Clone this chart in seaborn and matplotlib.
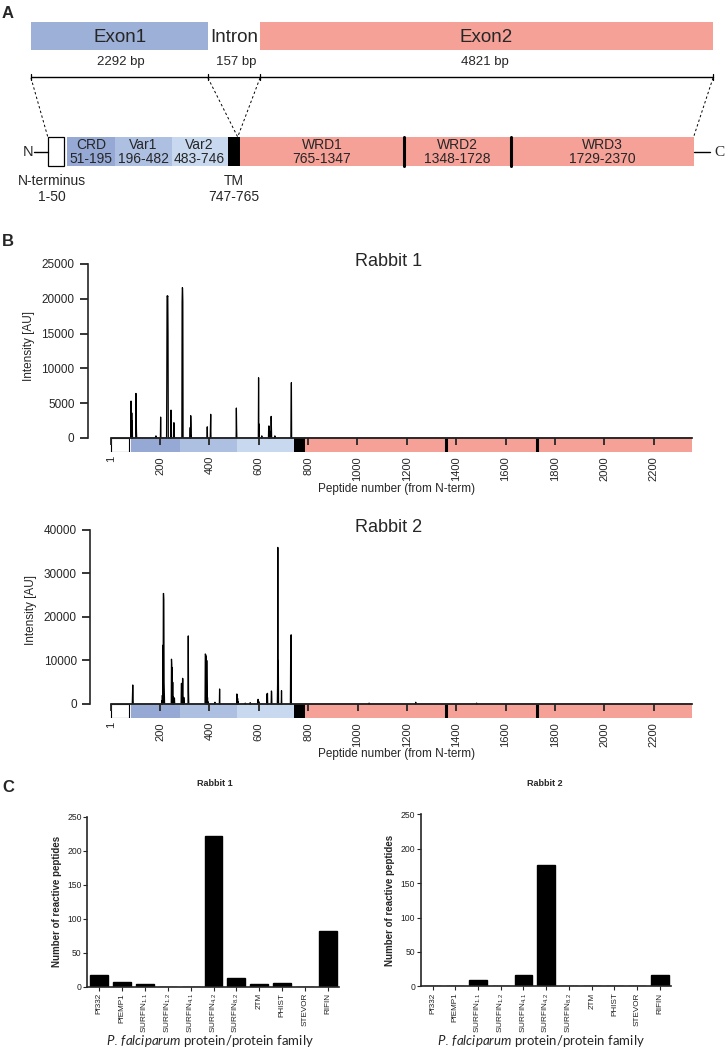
import numpy as np
import pandas as pd
import seaborn as sns
import matplotlib
matplotlib.use("Agg")
import matplotlib.pyplot as plt
from matplotlib.patches import Rectangle

# ---------------- data ----------------
exon_names = ["Exon1", "Intron", "Exon2"]
exon_bp = ["2292 bp", "157 bp", "4821 bp"]

domain_names = ["CRD", "Var1", "Var2", "WRD1", "WRD2", "WRD3"]
domain_ranges = ["51-195", "196-482", "483-746", "765-1347", "1348-1728", "1729-2370"]
nterm_label = ["N-terminus", "1-50"]
tm_label = ["TM", "747-765"]

n_peptides = 2356
# peptide-array domain map (start, end) in peptide numbers
seg_start = [1, 82, 281, 512, 741, 787]
seg_end = [75, 281, 512, 741, 787, 2356]
wrd_dividers = [1357, 1729]
pep_ticks = [1, 200, 400, 600, 800, 1000, 1200, 1400, 1600, 1800, 2000, 2200]

r1_peptides = [82, 83, 85, 87, 102, 103, 104, 183, 202, 227, 228, 229, 230, 231, 232,
               244, 255, 256, 257, 289, 290, 291, 292, 322, 324, 325, 391, 404, 405,
               509, 510, 599, 601, 612, 640, 642, 644, 650, 651, 665, 731, 732]
r1_intensity = [5300, 3000, 3600, 2500, 6400, 3500, 900, 300, 3000, 8000, 20400, 20400,
                20300, 20400, 15000, 4000, 2100, 2200, 1500, 19500, 21600, 21500, 19600,
                1500, 3200, 2000, 1600, 2000, 3400, 4300, 1500, 8650, 2000, 300, 1700,
                1700, 1000, 3100, 1800, 300, 4500, 7950]

r2_peptides = [88, 89, 90, 207, 209, 211, 213, 214, 215, 216, 217, 246, 247, 249, 251,
               253, 255, 258, 286, 287, 289, 291, 292, 294, 296, 314, 315, 383, 384, 385,
               387, 389, 390, 392, 394, 422, 441, 511, 512, 514, 516, 545, 565, 597, 600,
               633, 635, 651, 652, 676, 677, 679, 692, 729, 731, 1047, 1236, 1483]
r2_intensity = [1800, 4370, 1800, 800, 2000, 13500, 25400, 25400, 24000, 5000, 2000,
                10300, 9000, 8400, 5000, 1700, 1500, 1300, 4700, 4750, 3600, 5900, 5800,
                1500, 1500, 15650, 3000, 11500, 11400, 11300, 11000, 10000, 4000, 1500,
                500, 400, 3450, 2300, 2200, 1300, 500, 200, 300, 1070, 540, 2300, 2450,
                2990, 2800, 4500, 36000, 10000, 3060, 10900, 15900, 200, 400, 200]

families = ["Pf332", "PfEMP1", r"SURFIN$_{\mathrm{1.1}}$", r"SURFIN$_{\mathrm{1.2}}$",
            r"SURFIN$_{\mathrm{4.1}}$", r"SURFIN$_{\mathrm{4.2}}$", r"SURFIN$_{\mathrm{8.2}}$",
            "2TM", "PHIST", "STEVOR", "RIFIN"]
rabbit1_counts = [17, 7, 4, 0, 0, 222, 13, 4, 5, 0, 82]
rabbit2_counts = [0, 0, 9, 0, 17, 177, 0, 0, 0, 0, 17]

# ---------------- style ----------------
sns.set_style("ticks")
plt.rcParams["font.family"] = ["Liberation Sans", "DejaVu Sans"]
plt.rcParams["axes.axisbelow"] = "line"
plt.rcParams["mathtext.fontset"] = "custom"
plt.rcParams["mathtext.rm"] = "Liberation Sans"
plt.rcParams["mathtext.it"] = "Lato:italic"
plt.rcParams["mathtext.bf"] = "Liberation Sans:bold"

BLUE_EXON = "#9DB0D8"
PINK = "#F5A198"
CRD_C = "#95A9D4"
VAR1_C = "#AEC0E2"
VAR2_C = "#C8D8EE"
seg_colors = ["white", CRD_C, VAR1_C, VAR2_C, "black", PINK]

W, H = 728, 1048
fig = plt.figure(figsize=(W / 100, H / 100), dpi=100)


def add_ax(left, top, right, bottom):
    return fig.add_axes([left / W, 1 - bottom / H, (right - left) / W, (bottom - top) / H])


axF = fig.add_axes([0, 0, 1, 1])
axF.set_xlim(0, W)
axF.set_ylim(H, 0)
axF.axis("off")
axF.patch.set_alpha(0)

# ---------------- panel A (schematic) ----------------
axF.text(8, 14, "A", fontsize=12, fontweight="bold", ha="center", va="center")
axF.text(8, 242, "B", fontsize=12, fontweight="bold", ha="center", va="center")
axF.text(8, 788, "C", fontsize=12, fontweight="bold", ha="center", va="center")

for (x0, x1), col in [((31, 208), BLUE_EXON), ((260, 713), PINK)]:
    axF.add_patch(Rectangle((x0, 22), x1 - x0, 28, color=col, lw=0))
axF.text(120, 37, exon_names[0], fontsize=13.5, ha="center", va="center")
axF.text(234, 37, exon_names[1], fontsize=13.5, ha="center", va="center")
axF.text(486, 37, exon_names[2], fontsize=13.5, ha="center", va="center")

axF.plot([31, 713], [77, 77], color="black", lw=1.0)
for xx in [31, 208, 260, 713]:
    axF.plot([xx, xx], [74, 80], color="black", lw=0.9)
axF.text(121, 62, exon_bp[0], fontsize=9.5, ha="center", va="center")
axF.text(236, 62, exon_bp[1], fontsize=9.5, ha="center", va="center")
axF.text(485, 62, exon_bp[2], fontsize=9.5, ha="center", va="center")

for (xa, xb) in [(31, 47.8), (208, 237.7), (260, 237.7), (713, 693.6)]:
    axF.plot([xa, xb], [78, 137], color="black", lw=0.7, ls=(0, (2.5, 2.5)))

# domain bar
ybar0, ybar1 = 137, 166
axF.add_patch(Rectangle((47.8, ybar0), 63.6 - 47.8, ybar1 - ybar0, facecolor="white",
                        edgecolor="black", lw=0.9))
a_edges = [67.3, 115, 171.8, 227.5, 240, 693.6]
a_cols = [CRD_C, VAR1_C, VAR2_C, "black", PINK]
for i in range(5):
    axF.add_patch(Rectangle((a_edges[i], ybar0), a_edges[i + 1] - a_edges[i],
                            ybar1 - ybar0, color=a_cols[i], lw=0))
for xx in [404, 510.7]:
    axF.plot([xx, xx], [ybar0, ybar1], color="black", lw=2.2)
axF.plot([34, 47.8], [152, 152], color="black", lw=1)
axF.plot([693.6, 710], [152, 152], color="black", lw=1)
axF.text(28, 152, "N", fontsize=10.5, ha="center", va="center")
axF.text(719, 153, "C", fontsize=11, ha="center", va="center", family="Liberation Serif")

dom_cx = [91, 143.4, 199.6, 322, 457.4, 602]
for cx, nm, rg in zip(dom_cx, domain_names, domain_ranges):
    axF.text(cx, 152, nm + "\n" + rg, fontsize=10, ha="center", va="center",
             linespacing=0.95)
axF.text(52, 189, "\n".join(nterm_label), fontsize=10, ha="center", va="center",
         linespacing=1.15)
axF.text(234, 189, "\n".join(tm_label), fontsize=10, ha="center", va="center",
         linespacing=1.15)

# ---------------- panel B ----------------
def peptide_panel(ax, peps, vals, ymax, ystep, bar_h):
    full = np.zeros(n_peptides)
    full[np.array(peps) - 1] = vals
    df = pd.DataFrame({"peptide": np.arange(1, n_peptides + 1), "intensity": full})
    sns.lineplot(data=df, x="peptide", y="intensity", ax=ax, color="black", lw=0.9,
                 estimator=None, zorder=3)
    for s, e, c in zip(seg_start, seg_end, seg_colors):
        ax.add_patch(Rectangle((s, -bar_h), e - s, bar_h, facecolor=c,
                               edgecolor="black" if c == "white" else "none",
                               lw=0.8 if c == "white" else 0, zorder=1))
    ax.vlines(wrd_dividers, -bar_h, 0, color="black", lw=2.2, zorder=2)
    ax.set_ylim(-bar_h, ymax)
    ax.set_yticks(np.arange(0, ymax + 1, ystep))
    ax.spines["left"].set_bounds(0, ymax)
    ax.spines["bottom"].set_position(("data", 0))
    ax.spines["bottom"].set_bounds(1, n_peptides)
    ax.spines["bottom"].set_zorder(4)
    for s in ["left", "bottom"]:
        ax.spines[s].set_linewidth(1.2)
    ax.spines["top"].set_visible(False)
    ax.spines["right"].set_visible(False)
    ax.set_xticks(pep_ticks)
    ax.set_xticklabels([str(t) for t in pep_ticks])
    ax.tick_params(axis="x", direction="out", length=5, width=1.3, pad=8,
                   labelrotation=90, labelsize=8)
    ax.tick_params(axis="y", direction="out", length=5.5, width=1.3, pad=4, labelsize=8.5)
    ax.set_xlabel("")
    ax.set_ylabel("")
    ax.patch.set_alpha(0)


xscale = 0.2467  # px per peptide
ax1 = add_ax(87.7, 264, 700, 452)
ax1.set_xlim((87.7 - 110.8) / xscale, (700 - 110.8) / xscale)
peptide_panel(ax1, r1_peptides, r1_intensity, 25000, 5000, 2017)

ax2 = add_ax(90, 530, 700, 718)
ax2.set_xlim((90 - 110.8) / xscale, (700 - 110.8) / xscale)
peptide_panel(ax2, r2_peptides, r2_intensity, 40000, 10000, 3220)

axF.text(389, 262, "Rabbit 1", fontsize=13, ha="center", va="center")
axF.text(389, 527, "Rabbit 2", fontsize=13, ha="center", va="center")
axF.text(29, 346, "Intensity [AU]", fontsize=8.5, rotation=90, ha="center", va="center")
axF.text(31, 610, "Intensity [AU]", fontsize=8.5, rotation=90, ha="center", va="center")
axF.text(397, 489, "Peptide number (from N-term)", fontsize=8.5, ha="center", va="center")
axF.text(397, 754, "Peptide number (from N-term)", fontsize=8.5, ha="center", va="center")

# ---------------- panel C ----------------
def count_panel(ax, counts, title_x, title):
    df = pd.DataFrame({"family": families, "count": counts})
    sns.barplot(data=df, x="family", y="count", color="black", saturation=1,
                width=0.78, ax=ax, edgecolor="black")
    ax.set_xlim(-0.52, 10.5)
    ax.set_ylim(0, 250)
    ax.set_yticks([0, 50, 100, 150, 200, 250])
    ax.set_xticks(range(len(families)))
    ax.set_xticklabels(families)
    sns.despine(ax=ax)
    for s in ["left", "bottom"]:
        ax.spines[s].set_linewidth(1.2)
    ax.tick_params(axis="x", length=3, width=0.8, pad=1.5, labelrotation=90,
                   labelsize=5.9, labelcolor="#222222")
    ax.tick_params(axis="y", length=3, width=0.8, pad=1, labelsize=6.2,
                   labelcolor="#222222")
    ax.set_xlabel("")
    ax.set_ylabel("Number of reactive peptides", fontsize=7, fontweight="bold", labelpad=4)
    axF.text(title_x, 784, title, fontsize=6.5, fontweight="bold", ha="center", va="center")


axc1 = add_ax(87.3, 816.7, 339.3, 986.7)
count_panel(axc1, rabbit1_counts, 215, "Rabbit 1")
axc2 = add_ax(420.7, 814.3, 671.3, 986.3)
count_panel(axc2, rabbit2_counts, 545, "Rabbit 2")

xl = r"$\mathit{P.\,falciparum}$ protein/protein family"
axF.text(210, 1041, xl, fontsize=9.5, ha="center", va="center", family="Lato")
axF.text(541, 1041, xl, fontsize=9.5, ha="center", va="center", family="Lato")

fig.savefig("out.png", dpi=100)
